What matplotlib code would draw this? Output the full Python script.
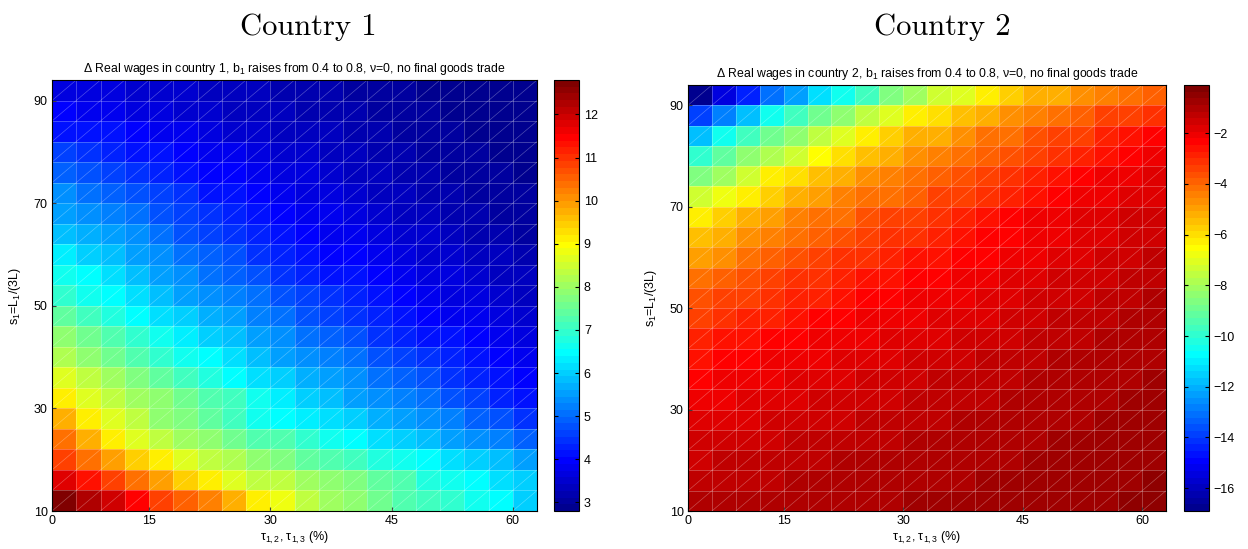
import numpy as np
import matplotlib
matplotlib.use("Agg")
import matplotlib.pyplot as plt
from matplotlib.colors import ListedColormap
from matplotlib.collections import LineCollection

plt.rcParams['font.family'] = ['Liberation Sans', 'DejaVu Sans']
plt.rcParams['mathtext.fontset'] = 'custom'
plt.rcParams['mathtext.rm'] = 'Liberation Sans'
plt.rcParams['mathtext.it'] = 'Liberation Sans:italic'
plt.rcParams['axes.unicode_minus'] = True

# tick labels (placed on grid indices, as in the original figure)
tau_labels = [0, 15, 30, 45, 60]
tau_tick_idx = [1, 5, 10, 15, 20]
s_labels = [10, 30, 50, 70, 90]
s_tick_idx = [1, 6, 11, 16, 21]

# Delta real wages, country 1 (rows: s1 = 10 -> 90, cols: tau 0 -> 63)
wage_c1 = [
    [12.7, 12.3, 11.9, 11.4, 10.9, 10.5, 10.2, 9.8, 9.05, 8.8, 8.4, 8.05, 7.8, 7.55, 7.3, 7.05, 6.9, 6.55, 6.4, 6.05],
    [11.8, 11.3, 10.8, 10.3, 9.9, 9.5, 9.2, 8.7, 8.4, 8.3, 8.05, 7.8, 7.7, 7.4, 7.2, 6.8, 6.55, 6.4, 6.2, 5.95],
    [10.9, 10.4, 9.9, 9.5, 9.05, 8.7, 8.4, 8.2, 7.95, 7.7, 7.4, 7.3, 7.05, 6.8, 6.55, 6.4, 6.2, 6.05, 5.8, 5.55],
    [10.3, 9.8, 9.2, 8.7, 8.3, 8.05, 7.8, 7.55, 7.3, 7.2, 6.9, 6.7, 6.4, 6.2, 6.05, 5.8, 5.55, 5.45, 5.2, 4.95],
    [9.8, 9.2, 8.7, 8.3, 7.95, 7.7, 7.4, 7.1, 6.6, 6.45, 6.3, 6.2, 5.95, 5.7, 5.55, 5.3, 5.2, 4.95, 4.7, 4.45],
    [9.05, 8.7, 8.4, 8.05, 7.8, 7.55, 7.3, 7.05, 6.7, 6.3, 6.05, 5.8, 5.55, 5.45, 5.2, 5.05, 4.8, 4.55, 4.3, 4.15],
    [8.6, 8.3, 8.0, 7.7, 7.4, 7.1, 6.8, 6.5, 6.2, 6.0, 5.7, 5.5, 5.3, 5.1, 4.9, 4.7, 4.5, 4.3, 4.1, 3.95],
    [8.2, 7.9, 7.6, 7.3, 7.0, 6.7, 6.4, 6.1, 5.9, 5.6, 5.4, 5.2, 5.0, 4.8, 4.6, 4.4, 4.25, 4.1, 3.95, 3.8],
    [7.8, 7.5, 7.2, 6.9, 6.6, 6.3, 6.0, 5.8, 5.5, 5.3, 5.1, 4.9, 4.7, 4.5, 4.35, 4.2, 4.05, 3.9, 3.8, 3.65],
    [7.4, 7.1, 6.8, 6.5, 6.2, 6.0, 5.7, 5.5, 5.2, 5.0, 4.8, 4.6, 4.45, 4.3, 4.15, 4.0, 3.85, 3.75, 3.65, 3.5],
    [7.0, 6.7, 6.4, 6.2, 5.9, 5.6, 5.4, 5.2, 5.0, 4.8, 4.6, 4.4, 4.25, 4.1, 3.95, 3.8, 3.7, 3.6, 3.5, 3.4],
    [6.6, 6.4, 6.1, 5.8, 5.6, 5.3, 5.1, 4.9, 4.7, 4.5, 4.35, 4.2, 4.05, 3.9, 3.8, 3.7, 3.6, 3.5, 3.4, 3.3],
    [6.3, 6.0, 5.8, 5.5, 5.3, 5.1, 4.9, 4.7, 4.5, 4.3, 4.15, 4.0, 3.9, 3.8, 3.65, 3.55, 3.45, 3.35, 3.3, 3.2],
    [5.9, 5.7, 5.5, 5.3, 5.0, 4.8, 4.6, 4.45, 4.3, 4.1, 4.0, 3.85, 3.75, 3.65, 3.55, 3.45, 3.35, 3.25, 3.2, 3.1],
    [5.6, 5.4, 5.2, 5.0, 4.8, 4.6, 4.4, 4.25, 4.1, 3.95, 3.85, 3.75, 3.6, 3.5, 3.4, 3.35, 3.25, 3.2, 3.1, 3.05],
    [5.3, 5.1, 4.9, 4.7, 4.55, 4.4, 4.2, 4.05, 3.95, 3.8, 3.7, 3.6, 3.5, 3.4, 3.3, 3.25, 3.15, 3.1, 3.05, 3.0],
    [4.9, 4.8, 4.6, 4.45, 4.3, 4.15, 4.0, 3.9, 3.8, 3.7, 3.6, 3.5, 3.4, 3.3, 3.25, 3.15, 3.1, 3.05, 3.0, 2.95],
    [4.6, 4.5, 4.35, 4.2, 4.1, 3.95, 3.85, 3.75, 3.65, 3.55, 3.45, 3.4, 3.3, 3.25, 3.15, 3.1, 3.05, 3.0, 2.95, 2.9],
    [4.2, 4.15, 4.05, 3.95, 3.85, 3.75, 3.65, 3.55, 3.5, 3.4, 3.35, 3.3, 3.2, 3.15, 3.1, 3.05, 3.0, 2.95, 2.9, 2.9],
    [3.9, 3.85, 3.8, 3.7, 3.65, 3.55, 3.5, 3.4, 3.35, 3.3, 3.25, 3.2, 3.15, 3.1, 3.05, 3.0, 2.95, 2.9, 2.9, 2.85],
    [3.7, 3.65, 3.6, 3.55, 3.5, 3.45, 3.4, 3.35, 3.3, 3.25, 3.2, 3.15, 3.1, 3.05, 3.0, 2.95, 2.95, 2.9, 2.85, 2.85],
]

# Delta real wages, country 2
wage_c2 = [
    [-1.15, -1.1, -1.1, -1.05, -1.0, -1.0, -0.95, -0.9, -0.9, -0.85, -0.85, -0.8, -0.75, -0.75, -0.7, -0.7, -0.65, -0.65, -0.6, -0.6],
    [-1.3, -1.25, -1.2, -1.2, -1.15, -1.1, -1.05, -1.0, -1.0, -0.95, -0.9, -0.9, -0.85, -0.8, -0.8, -0.75, -0.7, -0.7, -0.65, -0.6],
    [-1.45, -1.4, -1.35, -1.3, -1.25, -1.2, -1.15, -1.1, -1.1, -1.05, -1.0, -0.95, -0.9, -0.9, -0.85, -0.8, -0.75, -0.75, -0.7, -0.65],
    [-1.6, -1.55, -1.5, -1.45, -1.4, -1.35, -1.3, -1.25, -1.2, -1.15, -1.1, -1.05, -1.0, -0.95, -0.9, -0.85, -0.8, -0.8, -0.75, -0.7],
    [-1.8, -1.75, -1.7, -1.6, -1.55, -1.5, -1.45, -1.4, -1.3, -1.25, -1.2, -1.15, -1.1, -1.05, -1.0, -0.95, -0.9, -0.85, -0.8, -0.75],
    [-2.0, -1.95, -1.85, -1.8, -1.7, -1.65, -1.55, -1.5, -1.45, -1.4, -1.3, -1.25, -1.2, -1.15, -1.05, -1.0, -0.95, -0.9, -0.85, -0.8],
    [-2.25, -2.15, -2.05, -1.95, -1.9, -1.8, -1.7, -1.65, -1.55, -1.5, -1.4, -1.35, -1.3, -1.2, -1.15, -1.1, -1.0, -0.95, -0.9, -0.85],
    [-2.5, -2.4, -2.3, -2.2, -2.1, -2.0, -1.9, -1.8, -1.7, -1.6, -1.55, -1.45, -1.4, -1.3, -1.25, -1.15, -1.1, -1.0, -0.95, -0.9],
    [-2.8, -2.7, -2.55, -2.4, -2.3, -2.2, -2.1, -2.0, -1.9, -1.8, -1.7, -1.6, -1.5, -1.45, -1.35, -1.3, -1.2, -1.1, -1.05, -0.95],
    [-3.3, -3.1, -2.9, -2.75, -2.6, -2.45, -2.3, -2.2, -2.1, -2.0, -1.9, -1.8, -1.7, -1.6, -1.5, -1.4, -1.3, -1.25, -1.15, -1.05],
    [-3.7, -3.5, -3.3, -3.1, -2.9, -2.75, -2.6, -2.45, -2.3, -2.2, -2.05, -1.95, -1.85, -1.75, -1.65, -1.55, -1.45, -1.35, -1.25, -1.15],
    [-4.3, -4.0, -3.75, -3.5, -3.25, -3.05, -2.85, -2.7, -2.55, -2.4, -2.25, -2.1, -2.0, -1.9, -1.75, -1.65, -1.55, -1.45, -1.35, -1.25],
    [-4.9, -4.6, -4.3, -4.0, -3.7, -3.45, -3.25, -3.05, -2.85, -2.7, -2.55, -2.4, -2.25, -2.1, -1.95, -1.8, -1.7, -1.6, -1.45, -1.35],
    [-5.6, -5.2, -4.8, -4.4, -4.1, -3.8, -3.6, -3.4, -3.2, -3.0, -2.8, -2.6, -2.45, -2.3, -2.15, -2.0, -1.85, -1.7, -1.55, -1.45],
    [-6.2, -5.8, -5.35, -4.9, -4.5, -4.3, -4.1, -3.7, -3.5, -3.3, -3.05, -2.8, -2.6, -2.4, -2.2, -2.0, -1.9, -1.8, -1.6, -1.5],
    [-7.45, -6.8, -6.2, -5.8, -5.35, -4.9, -4.5, -4.3, -4.1, -3.9, -3.5, -3.3, -3.05, -2.8, -2.6, -2.4, -2.2, -2.0, -1.8, -1.7],
    [-8.7, -8.1, -7.45, -6.4, -6.0, -5.6, -5.1, -4.7, -4.5, -4.1, -3.9, -3.7, -3.5, -3.05, -2.8, -2.6, -2.4, -2.2, -2.0, -1.8],
    [-10.0, -9.1, -8.5, -7.9, -7.2, -6.6, -6.0, -5.6, -5.1, -4.7, -4.5, -4.3, -3.9, -3.7, -3.5, -3.05, -2.8, -2.6, -2.4, -2.2],
    [-11.9, -10.6, -9.55, -8.9, -8.3, -7.7, -7.0, -6.2, -5.8, -5.35, -5.1, -4.7, -4.3, -4.1, -3.7, -3.5, -3.3, -2.8, -2.6, -2.4],
    [-14.0, -12.9, -11.65, -10.6, -9.8, -8.9, -8.5, -7.7, -7.0, -6.4, -6.0, -5.6, -5.1, -4.7, -4.5, -4.1, -3.9, -3.5, -3.3, -3.05],
    [-16.7, -15.4, -14.4, -13.1, -12.3, -11.2, -10.4, -9.55, -8.7, -8.1, -7.45, -7.0, -6.4, -5.8, -5.35, -5.1, -4.7, -4.5, -4.3, -3.9],
]

clim_c1 = (2.8, 12.8)
clim_c2 = (-16.9, -0.1)


def matlab_jet(m=64):
    n = int(np.ceil(m / 4))
    u = np.concatenate([np.arange(1, n + 1) / n, np.ones(n - 1), np.arange(n, 0, -1) / n])
    g = int(np.ceil(n / 2)) - (1 if m % 4 == 1 else 0) + np.arange(1, len(u) + 1)
    r = g + n
    b = g - n
    J = np.zeros((m, 3))
    for idx, col in ((r, 0), (g, 1), (b, 2)):
        ok = (idx >= 1) & (idx <= m)
        J[idx[ok] - 1, col] = u[ok]
    return ListedColormap(J)


jet = matlab_jet(64)


def draw_panel(fig, ax_rect, cb_rect, data, clim, cticks, title, subtitle, title_x):
    z = np.array(data)
    nr, nc = z.shape
    xe = np.arange(1, nc + 2)
    ye = np.arange(1, nr + 2)
    ax = fig.add_axes(ax_rect)
    mesh = ax.pcolormesh(xe, ye, z, cmap=jet, vmin=clim[0], vmax=clim[1], shading='flat')

    # faceted surface edges: grid plus diagonals
    segs = [[(x, ye[0]), (x, ye[-1])] for x in xe] + [[(xe[0], y), (xe[-1], y)] for y in ye]
    ax.add_collection(LineCollection(segs, colors='white', linewidths=0.6, alpha=0.3))
    diag = [[(xe[i], ye[j]), (xe[i + 1], ye[j + 1])] for i in range(nc) for j in range(nr)]
    ax.add_collection(LineCollection(diag, colors='white', linewidths=0.5, alpha=0.3))

    ax.set_xlim(xe[0], xe[-1])
    ax.set_ylim(ye[0], ye[-1])
    ax.set_xticks(tau_tick_idx)
    ax.set_xticklabels([str(v) for v in tau_labels])
    ax.set_yticks(s_tick_idx)
    ax.set_yticklabels([str(v) for v in s_labels])
    ax.tick_params(direction='in', length=3, labelsize=9, top=False, right=False, pad=3)
    ax.set_xlabel('τ$_{1,2}$, τ$_{1,3}$ (%)', fontsize=9, labelpad=2)
    ax.set_ylabel('s$_1$=L$_1$/(3L)', fontsize=9, labelpad=8)
    ax.set_title(subtitle, fontsize=8.8, pad=6)

    cax = fig.add_axes(cb_rect)
    cb = fig.colorbar(mesh, cax=cax, ticks=cticks)
    cb.ax.tick_params(direction='in', length=3, labelsize=9, left=True, right=True)
    cb.outline.set_linewidth(0.8)

    fig.text(title_x, 1 - 35 / 549, title, fontsize=22, family='cmr10', ha='center', va='baseline')
    return ax


W, H = 1248, 549
fig = plt.figure(figsize=(W / 100, H / 100), dpi=100)


def rect(x0, x1, y0, y1):
    return [x0 / W, 1 - y1 / H, (x1 - x0) / W, (y1 - y0) / H]


draw_panel(fig, rect(52, 537, 80, 511), rect(554, 579, 80, 511), wage_c1, clim_c1,
           list(range(3, 13)), 'Country 1',
           'Δ Real wages in country 1, b$_1$ raises from 0.4 to 0.8, ν=0, no final goods trade',
           308 / W)
draw_panel(fig, rect(688, 1166, 85, 511), rect(1184, 1209, 85, 511), wage_c2, clim_c2,
           list(range(-16, -1, 2)), 'Country 2',
           'Δ Real wages in country 2, b$_1$ raises from 0.4 to 0.8, ν=0, no final goods trade',
           942 / W)

fig.savefig('out.png', dpi=100)
